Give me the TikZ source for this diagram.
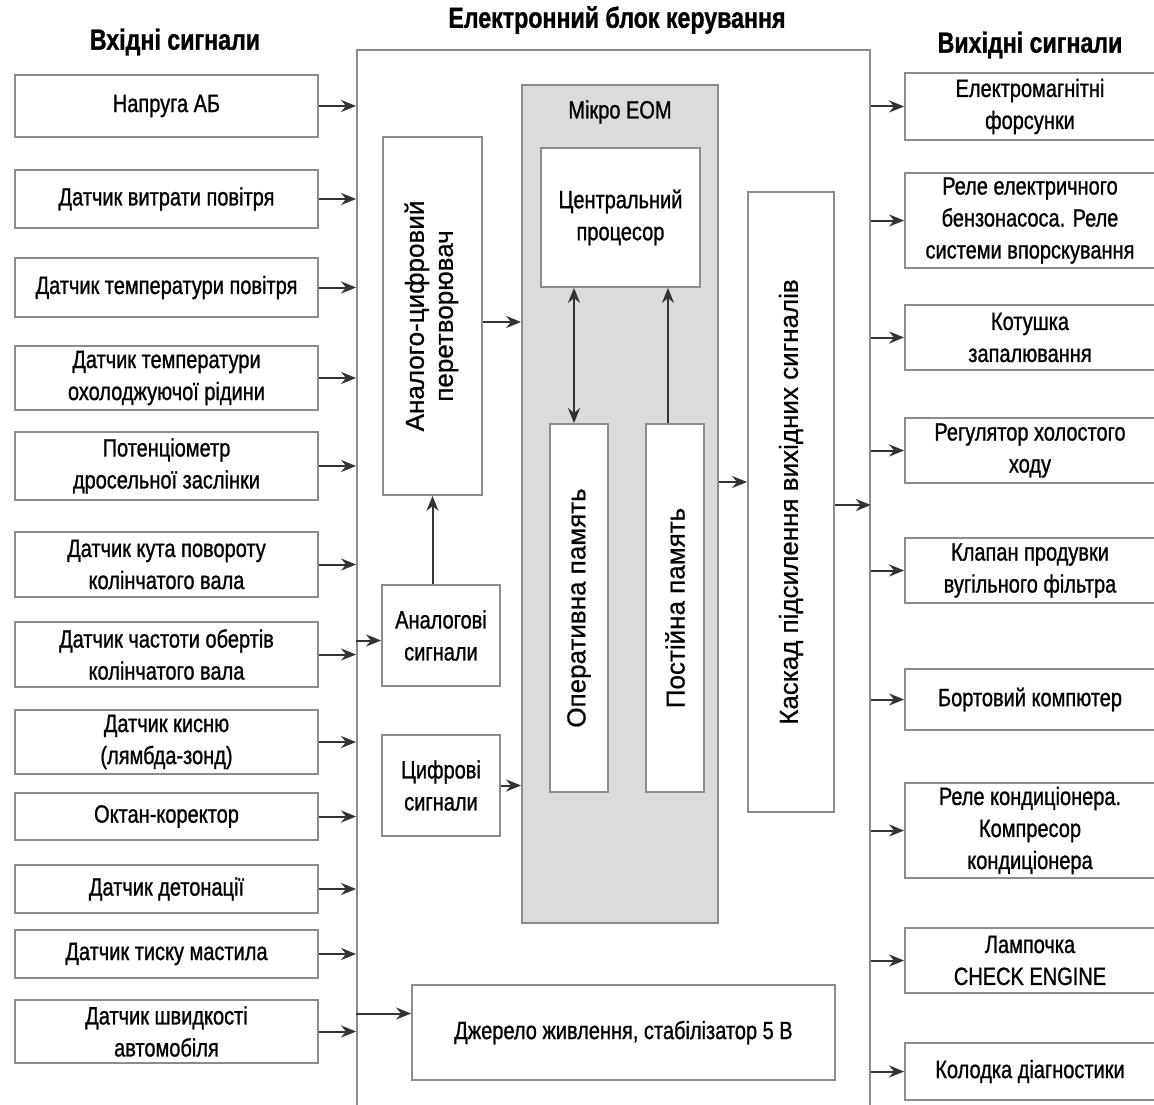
\documentclass[tikz,border=0pt]{standalone}
\usepackage{fontspec}
\usepackage{graphicx}
\setmainfont{Liberation Sans}[FakeStretch=0.8, FakeBold=1.0]
\newfontfamily\vfont{Liberation Sans}[FakeBold=0.7]
\usepackage{tikz}
\usetikzlibrary{arrows.meta}
\usetikzlibrary{positioning}

\begin{document}
\begin{tikzpicture}[x=1pt,y=-1pt,
		box/.style={draw=black!45, line width=1.8pt, fill=white, align=center, inner sep=0pt, font=\fontsize{25}{32}\selectfont},
		vbox/.style={box, font=\vfont\fontsize{26}{29}\selectfont},
		arr/.style={-{Stealth[length=15pt,width=12pt]}, line width=2pt, draw=black!80},
		head/.style={font=\fontsize{29}{32}\selectfont\bfseries}]
		\def\wi{303}
		\def\wo{250}
		\clip (0,0) rectangle (1154,1105);
		\fill[white] (0,0) rectangle (1154,1105);
		% titoli
		\node[head] (thin) at (175,42) {Вхідні сигнали};
		\node[head] (tecu) at (617,20) {Електронний блок керування};
		\node[head] (thout) at (1030,45) {Вихідні сигнали};
		% blocco centrale
		\node[box, minimum width=513, minimum height=1070] (ecu) at (613.5,585) {};
		\node[box, fill=black!14, minimum width=196, minimum height=838] (eom) at (620,504) {};
		\node[font=\fontsize{25}{32}\selectfont] (eomt) at (620,112) {Мікро ЕОМ};
		\node[box, minimum width=159, minimum height=139] (cpu) at (620.5,217.5) {Центральний\\процесор};
		\node[vbox, minimum width=58, minimum height=368] (ram) at (579,608) {\rotatebox{90}{Оперативна память}};
		\node[vbox, minimum width=58, minimum height=368] (rom) at (675,608) {\rotatebox{90}{Постійна память}};
		\node[vbox, minimum width=99, minimum height=358] (adc) at (432.5,316) {\rotatebox{90}{\begin{tabular}{@{}c@{}}Аналого-цифровий\\перетворювач\end{tabular}}};
		\node[box, minimum width=118, minimum height=101] (ana) at (441,635.5) {Аналогові\\сигнали};
		\node[box, minimum width=118, minimum height=101] (dig) at (441,785.5) {Цифрові\\сигнали};
		\node[vbox, minimum width=86, minimum height=620] (cas) at (791,502) {\rotatebox{90}{Каскад підсилення вихідних сигналів}};
		\node[box, minimum width=423, minimum height=95] (pwr) at (623.5,1032.5) {Джерело живлення, стабілізатор 5 В};
		% ingressi
		\node[box, minimum width=\wi, minimum height=62] (in1) at (166.5,106) {Напруга АБ};
		\node[box, minimum width=\wi, minimum height=58] (in2) at (166.5,199) {Датчик витрати повітря};
		\node[box, minimum width=\wi, minimum height=59] (in3) at (166.5,287.5) {Датчик температури повітря};
		\node[box, minimum width=\wi, minimum height=64] (in4) at (166.5,378) {Датчик температури\\охолоджуючої рідини};
		\node[box, minimum width=\wi, minimum height=68] (in5) at (166.5,466) {Потенціометр\\дросельної заслінки};
		\node[box, minimum width=\wi, minimum height=65] (in6) at (166.5,564.5) {Датчик кута повороту\\колінчатого вала};
		\node[box, minimum width=\wi, minimum height=65] (in7) at (166.5,654.5) {Датчик частоти обертів\\колінчатого вала};
		\node[box, minimum width=\wi, minimum height=64] (in8) at (166.5,742) {Датчик кисню\\(лямбда-зонд)};
		\node[box, minimum width=\wi, minimum height=47] (in9) at (166.5,816.5) {Октан-коректор};
		\node[box, minimum width=\wi, minimum height=48] (in10) at (166.5,889) {Датчик детонації};
		\node[box, minimum width=\wi, minimum height=48] (in11) at (166.5,954) {Датчик тиску мастила};
		\node[box, minimum width=\wi, minimum height=63] (in12) at (166.5,1031.5) {Датчик швидкості\\автомобіля};
		% uscite
		\node[box, minimum width=\wo, minimum height=67] (out1) at (1030,106.5) {Електромагнітні\\форсунки};
		\node[box, minimum width=\wo, minimum height=95] (out2) at (1030,220.5) {Реле електричного\\бензонасоса. Реле\\системи впорскування};
		\node[box, minimum width=\wo, minimum height=65] (out3) at (1030,337.5) {Котушка\\запалювання};
		\node[box, minimum width=\wo, minimum height=65] (out4) at (1030,450.5) {Регулятор холостого\\ходу};
		\node[box, minimum width=\wo, minimum height=65] (out5) at (1030,570.5) {Клапан продувки\\вугільного фільтра};
		\node[box, minimum width=\wo, minimum height=61] (out6) at (1030,699.5) {Бортовий компютер};
		\node[box, minimum width=\wo, minimum height=95] (out7) at (1030,830.5) {Реле кондиціонера.\\Компресор\\кондиціонера};
		\node[box, minimum width=\wo, minimum height=65] (out8) at (1030,960.5) {Лампочка\\CHECK ENGINE};
		\node[box, minimum width=\wo, minimum height=57] (out9) at (1030,1071.5) {Колодка діагностики};
		% collegamenti ingressi
		\draw[arr] (in1.east) -- (in1.east -| ecu.west);
		\draw[arr] (in2.east) -- (in2.east -| ecu.west);
		\draw[arr] (in3.east) -- (in3.east -| ecu.west);
		\draw[arr] (in4.east) -- (in4.east -| ecu.west);
		\draw[arr] (in5.east) -- (in5.east -| ecu.west);
		\draw[arr] (in6.east) -- (in6.east -| ecu.west);
		\draw[arr] (in7.east) -- (in7.east -| ecu.west);
		\draw[arr] (in8.east) -- (in8.east -| ecu.west);
		\draw[arr] (in9.east) -- (in9.east -| ecu.west);
		\draw[arr] (in10.east) -- (in10.east -| ecu.west);
		\draw[arr] (in11.east) -- (in11.east -| ecu.west);
		\draw[arr] (in12.east) -- (in12.east -| ecu.west);
		% collegamenti interni
		\draw[arr] ([yshift=-5pt]ana.west -| ecu.west) -- ([yshift=-5pt]ana.west);
		\draw[arr] ([yshift=19pt]pwr.west -| ecu.west) -- ([yshift=19pt]pwr.west);
		\draw[arr] (adc.south |- ana.north) -- (adc.south);
		\draw[arr] ([yshift=-6pt]adc.east) -- ([yshift=-6pt]adc.east -| eom.west);
		\draw[arr] (dig.east) -- (dig.east -| eom.west);
		\draw[{Stealth[length=15pt,width=12pt]}-{Stealth[length=15pt,width=12pt]}, line width=2pt, draw=black!80] ([xshift=-5pt]ram.north) -- ([xshift=-5pt]ram.north |- cpu.south);
		\draw[arr] ([xshift=-7pt]rom.north) -- ([xshift=-7pt]rom.north |- cpu.south);
		\draw[arr] ([yshift=22pt]eom.east) -- ([yshift=22pt]eom.east -| cas.west);
		\draw[arr] ([yshift=-3pt]cas.east) -- ([yshift=-3pt]cas.east -| ecu.east);
		% collegamenti uscite
		\draw[arr] (out1.west -| ecu.east) -- (out1.west);
		\draw[arr] (out2.west -| ecu.east) -- (out2.west);
		\draw[arr] (out3.west -| ecu.east) -- (out3.west);
		\draw[arr] (out4.west -| ecu.east) -- (out4.west);
		\draw[arr] (out5.west -| ecu.east) -- (out5.west);
		\draw[arr] (out6.west -| ecu.east) -- (out6.west);
		\draw[arr] (out7.west -| ecu.east) -- (out7.west);
		\draw[arr] (out8.west -| ecu.east) -- (out8.west);
		\draw[arr] (out9.west -| ecu.east) -- (out9.west);
	\end{tikzpicture}
\end{document}
